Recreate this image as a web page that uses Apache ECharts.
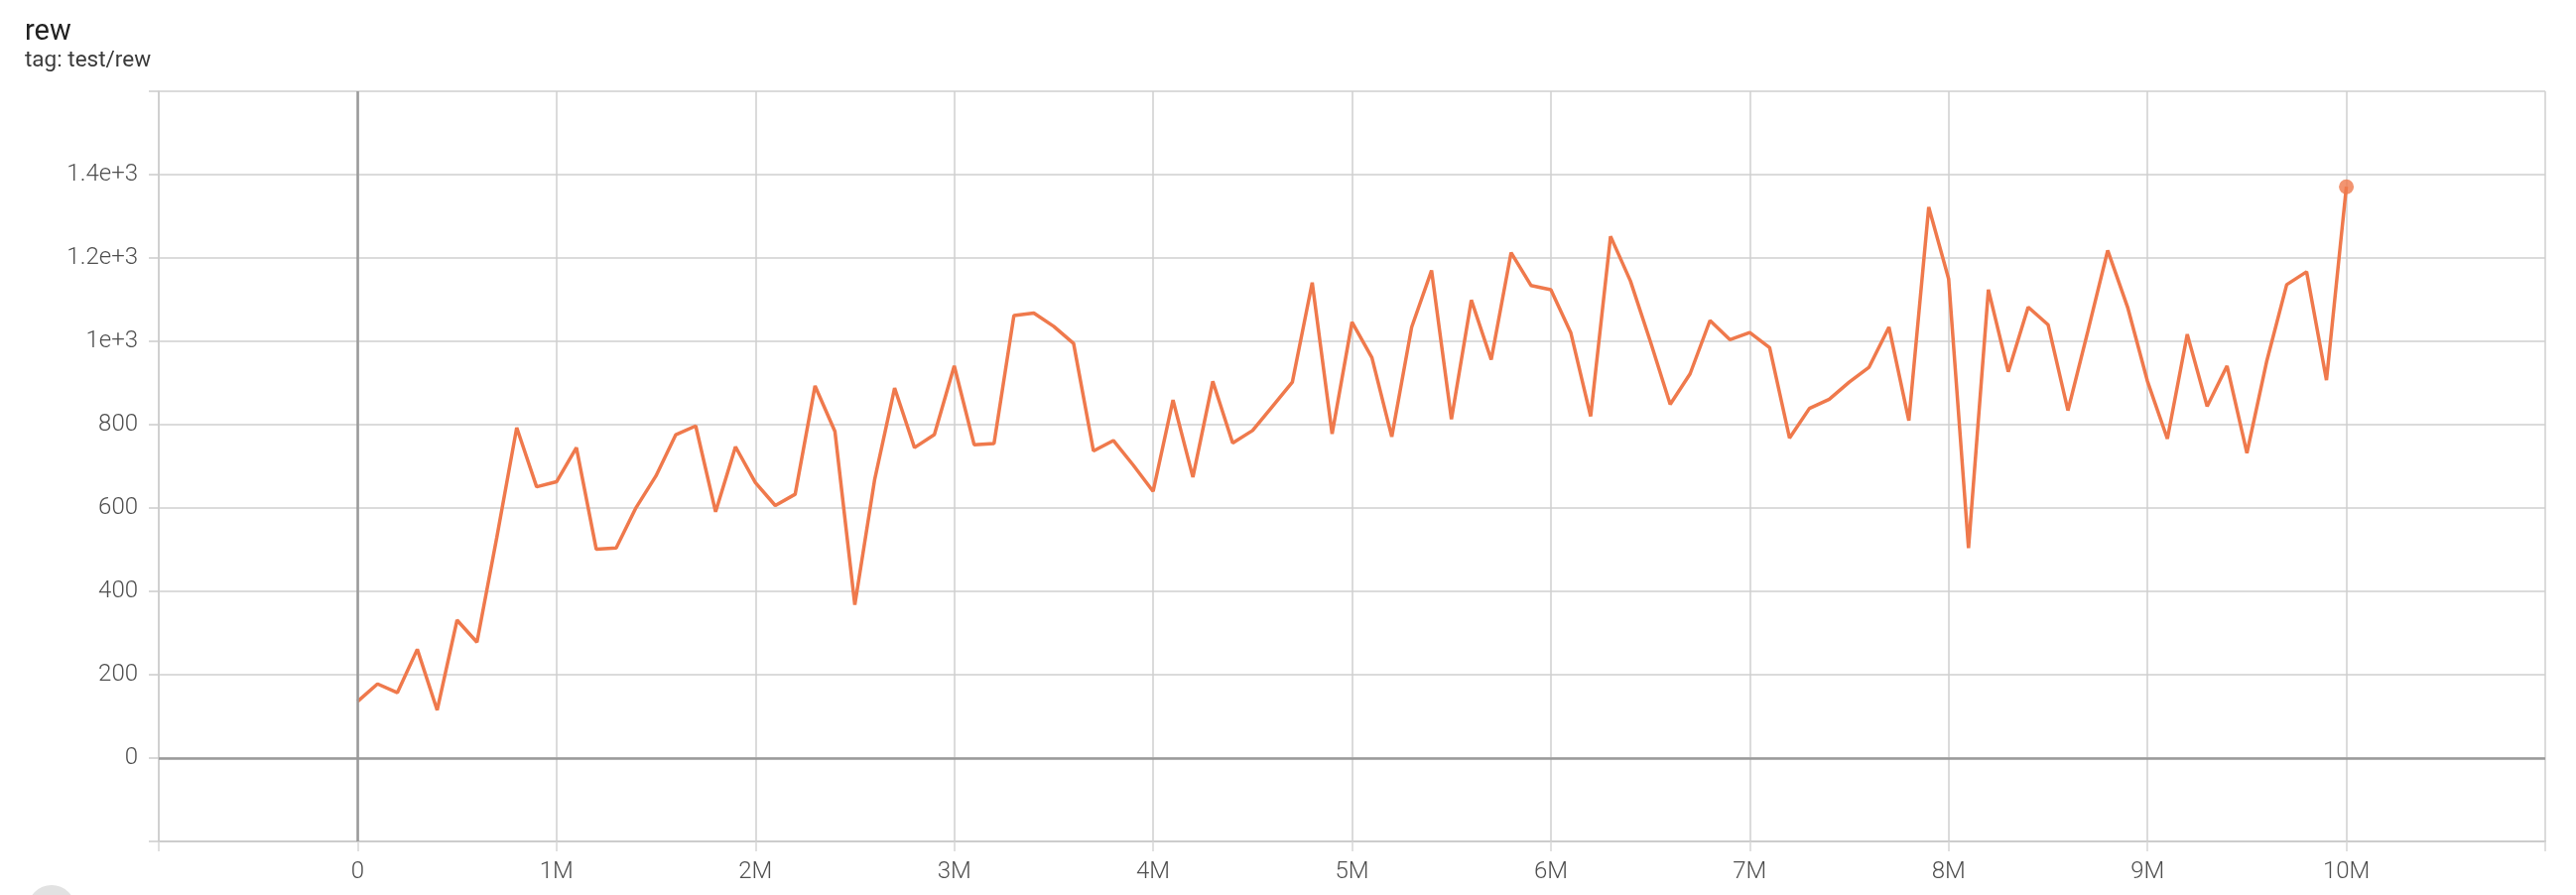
<!DOCTYPE html>
<html>
<head>
<meta charset="utf-8">
<script src="https://cdn.jsdelivr.net/npm/echarts@6/dist/echarts.min.js"></script>
<style>
html,body{margin:0;padding:0;background:#fff;}
#chart{width:2596px;height:902px;}
</style>
</head>
<body>
<div id="chart"></div>
<script>
// Steps in millions
var stepsM = [
  0.0,0.1,0.2,0.3,0.4,0.5,0.6,0.7,0.8,0.9,
  1.0,1.1,1.2,1.3,1.4,1.5,1.6,1.7,1.8,1.9,
  2.0,2.1,2.2,2.3,2.4,2.5,2.6,2.7,2.8,2.9,
  3.0,3.1,3.2,3.3,3.4,3.5,3.6,3.7,3.8,3.9,
  4.0,4.1,4.2,4.3,4.4,4.5,4.6,4.7,4.8,4.9,
  5.0,5.1,5.2,5.3,5.4,5.5,5.6,5.7,5.8,5.9,
  6.0,6.1,6.2,6.3,6.4,6.5,6.6,6.7,6.8,6.9,
  7.0,7.1,7.2,7.3,7.4,7.5,7.6,7.7,7.8,7.9,
  8.0,8.1,8.2,8.3,8.4,8.5,8.6,8.7,8.8,8.9,
  9.0,9.1,9.2,9.3,9.4,9.5,9.6,9.7,9.8,9.9,
  10.0
];
// test/rew values
var rew = [
  136,178,157,261,115,331,278,530,793,651,
  663,745,501,504,601,677,776,797,591,747,
  661,606,633,893,784,368,669,888,745,776,
  941,752,755,1062,1068,1036,995,737,762,703,
  640,859,674,904,756,786,844,902,1141,778,
  1046,961,771,1034,1170,813,1099,956,1213,1134,
  1124,1021,820,1252,1145,1000,849,922,1050,1004,
  1021,985,768,839,861,902,938,1034,810,1322,
  1150,504,1124,927,1082,1040,834,1024,1218,1082,
  904,766,1017,844,941,732,953,1136,1167,907,
  1371
];
var xTickLabelsM = [0,1,2,3,4,5,6,7,8,9,10];
var yTickLabels = {"0":"0","200":"200","400":"400","600":"600","800":"800","1000":"1e+3","1200":"1.2e+3","1400":"1.4e+3"};

var lineColor = '#ef794c';
var points = stepsM.map(function(s, i){ return [s * 1e6, rew[i]]; });
var lastPoint = [points[points.length - 1]];

var chart = echarts.init(document.getElementById('chart'), null, {renderer:'canvas'});
chart.setOption({
  animation: false,
  backgroundColor: '#ffffff',
  title: {
    text: 'rew',
    subtext: 'tag: test/rew',
    left: 20,
    top: 13,
    itemGap: 3,
    textStyle: {fontFamily: 'Roboto', fontSize: 29, fontWeight: 'normal', color: '#212121'},
    subtextStyle: {fontFamily: 'Roboto', fontSize: 22.5, color: '#3a3a3a'}
  },
  grid: {left: 160, right: 31, top: 92, bottom: 54, containLabel: false},
  xAxis: {
    type: 'value',
    min: -1e6, max: 11e6, interval: 1e6,
    axisLine: {show: true, onZero: false, lineStyle: {color: '#cccccc', width: 2}},
    axisTick: {show: true, length: 10, lineStyle: {color: '#d6d6d6', width: 1.5}},
    splitLine: {show: true, lineStyle: {color: '#cfcfcf', width: 1.5}},
    axisLabel: {
      margin: 19,
      fontFamily: 'Roboto', fontSize: 24, fontWeight: 300, color: '#4f4f4f',
      formatter: function(v){
        var m = Math.round(v / 1e5) / 10;
        if (xTickLabelsM.indexOf(m) < 0) return '';
        return m === 0 ? '0' : m + 'M';
      }
    }
  },
  yAxis: {
    type: 'value',
    min: -200, max: 1600, interval: 200,
    axisLine: {show: true, onZero: false, lineStyle: {color: '#cccccc', width: 1.5}},
    axisTick: {show: true, length: 10, lineStyle: {color: '#cccccc', width: 1.5}},
    splitLine: {show: true, lineStyle: {color: '#cfcfcf', width: 1.5}},
    axisLabel: {
      margin: 21,
      fontFamily: 'Roboto', fontSize: 24, fontWeight: 300, color: '#4f4f4f',
      formatter: function(v){
        var k = String(Math.round(v));
        return yTickLabels.hasOwnProperty(k) ? yTickLabels[k] : '';
      }
    }
  },
  graphic: [{
    type: 'circle', left: 28, top: 892, silent: true,
    shape: {r: 24},
    style: {fill: '#e2e2e2'}
  }],
  series: [
    {
      name: 'zero', type: 'line', data: [], z: 1, silent: true,
      markLine: {
        silent: true, symbol: 'none', animation: false,
        label: {show: false},
        lineStyle: {type: 'solid', color: '#9a9a9a', width: 2.5},
        data: [{xAxis: 0}, {yAxis: 0}]
      }
    },
    {
      name: 'rew', type: 'line', data: points, z: 3,
      showSymbol: false, symbol: 'none',
      lineStyle: {color: lineColor, width: 3.5},
      itemStyle: {color: lineColor}
    },
    {
      name: 'last', type: 'scatter', data: lastPoint, z: 4,
      symbol: 'circle', symbolSize: 15,
      itemStyle: {color: lineColor}
    }
  ]
});
</script>
</body>
</html>
